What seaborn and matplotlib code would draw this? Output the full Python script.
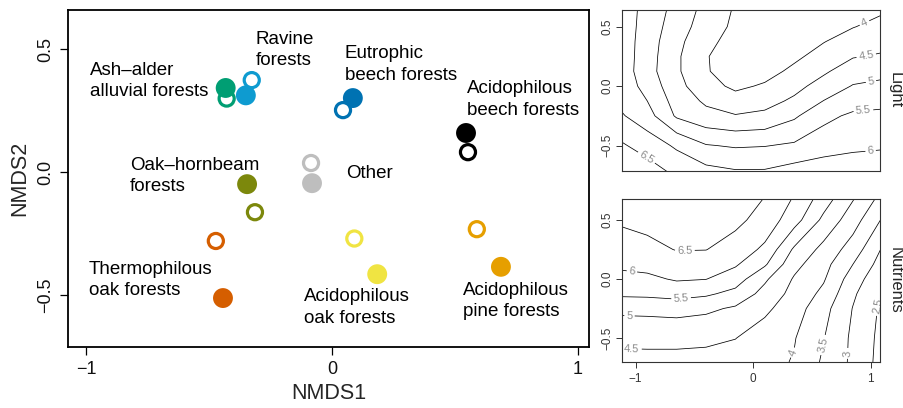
import numpy as np
import pandas as pd
import matplotlib
matplotlib.use("Agg")
import matplotlib.pyplot as plt
import seaborn as sns

# ---------------- data ----------------
groups = ["Ash–alder alluvial forests", "Ravine forests", "Eutrophic beech forests",
          "Acidophilous beech forests", "Oak–hornbeam forests", "Other",
          "Thermophilous oak forests", "Acidophilous oak forests", "Acidophilous pine forests"]
label_text = ["Ash–alder\nalluvial forests", "Ravine\nforests", "Eutrophic\nbeech forests",
              "Acidophilous\nbeech forests", "Oak–hornbeam\nforests", "Other",
              "Thermophilous\noak forests", "Acidophilous\noak forests", "Acidophilous\npine forests"]
filled_x = [-0.432, -0.350, 0.085, 0.545, -0.345, -0.081, -0.443, 0.184, 0.687]
filled_y = [0.342, 0.312, 0.301, 0.159, -0.049, -0.045, -0.512, -0.415, -0.385]
open_x = [-0.428, -0.326, 0.045, 0.553, -0.313, -0.085, -0.472, 0.091, 0.589]
open_y = [0.299, 0.374, 0.252, 0.081, -0.163, 0.037, -0.280, -0.270, -0.232]
colors = ["#009E73", "#0E9BD0", "#0072B2", "#000000", "#7C880C", "#BEBEBE",
          "#D55E00", "#F0E442", "#E69F00"]
ring_on_top = [False, True, True, False, False, True, False, False, False]

# label anchors (left edge, vertical centre of text block)
label_x = [-0.984, -0.309, 0.053, 0.549, -0.821, 0.057, -0.988, -0.114, 0.533]
label_y = [0.370, 0.496, 0.437, 0.295, -0.016, -0.004, -0.439, -0.551, -0.524]

# surface grids
grid_x = [-1.15, -0.9, -0.65, -0.4, -0.15, 0.1, 0.35, 0.6, 0.85, 1.1]
light_y = [-0.75, -0.5, -0.25, -0.125, 0.0, 0.125, 0.25, 0.375, 0.5, 0.7]
light_z = [
    [7.1, 6.8, 6.45, 6.25, 6.13, 6.13, 6.3, 6.4, 6.4, 6.3],
    [6.6, 6.29, 5.92, 5.53, 5.45, 5.48, 5.57, 5.75, 5.88, 5.95],
    [6.1, 5.7, 4.93, 4.65, 4.53, 4.6, 4.92, 5.38, 5.58, 5.6],
    [5.92, 5.5, 4.79, 4.42, 4.2, 4.34, 4.58, 5.01, 5.3, 5.38],
    [5.85, 5.33, 4.66, 4.18, 3.9, 4.06, 4.36, 4.68, 5.03, 5.12],
    [5.85, 5.2, 4.58, 4.03, 3.82, 3.82, 4.11, 4.43, 4.74, 4.85],
    [5.85, 5.23, 4.58, 4.03, 3.75, 3.7, 3.9, 4.19, 4.47, 4.55],
    [5.85, 5.25, 4.64, 4.13, 3.82, 3.7, 3.75, 3.98, 4.22, 4.35],
    [5.85, 5.29, 4.74, 4.26, 3.9, 3.75, 3.72, 3.8, 3.98, 4.15],
    [5.82, 5.35, 4.86, 4.38, 3.97, 3.8, 3.7, 3.7, 3.75, 3.85],
]
light_levels = [4, 4.5, 5, 5.5, 6, 6.5]
nutr_y = [-0.75, -0.5, -0.25, -0.125, 0.0, 0.125, 0.25, 0.5, 0.72]
nutr_z = [
    [4.3, 4.32, 4.32, 4.3, 4.25, 4.15, 3.95, 3.4, 2.9, 2.3],
    [4.61, 4.61, 4.61, 4.59, 4.51, 4.27, 4.03, 3.52, 2.9, 2.35],
    [5.12, 5.14, 5.18, 5.1, 4.93, 4.6, 4.23, 3.67, 2.98, 2.4],
    [5.59, 5.61, 5.68, 5.58, 5.35, 4.83, 4.34, 3.88, 3.08, 2.47],
    [5.85, 5.9, 6.05, 6.01, 5.74, 5.08, 4.45, 4.05, 3.25, 2.6],
    [6.09, 6.15, 6.28, 6.25, 6.06, 5.57, 4.65, 4.17, 3.5, 2.78],
    [6.28, 6.36, 6.52, 6.51, 6.29, 5.9, 4.92, 4.35, 3.77, 2.95],
    [6.55, 6.65, 6.75, 6.75, 6.62, 6.31, 5.71, 4.88, 4.22, 3.45],
    [6.7, 6.8, 6.85, 6.8, 6.75, 6.52, 6.0, 5.33, 4.6, 3.9],
]
nutr_levels = [2.5, 3, 3.5, 4, 4.5, 5, 5.5, 6, 6.5]

light_label_pos = [(0.94, 0.55), (0.96, 0.27), (1.0, 0.06), (0.94, -0.22), (1.0, -0.54), (-0.9, -0.59)]
nutr_label_pos = [(-0.58, 0.223), (-1.03, 0.07), (-0.61, -0.19), (-1.05, -0.27), (-1.03, -0.56),
                  (0.33, -0.62), (0.60, -0.56), (0.80, -0.63), (1.04, -0.22)]

# ---------------- style ----------------
sns.set_theme(style="white")
plt.rcParams["font.family"] = ["Liberation Sans", "DejaVu Sans"]
plt.rcParams["axes.unicode_minus"] = True

fig = plt.figure(figsize=(9.04, 4.08), dpi=100)

# ---------------- main NMDS panel ----------------
ax = fig.add_axes([68 / 904, 1 - 347 / 408, (589 - 68) / 904, (347 - 10) / 408])

df = pd.DataFrame({
    "group": groups * 2,
    "x": filled_x + open_x,
    "y": filled_y + open_y,
    "kind": ["filled"] * len(groups) + ["open"] * len(groups),
    "ringtop": ring_on_top * 2,
})
palette = dict(zip(groups, colors))


def draw(sub, kind, z):
    if len(sub) == 0:
        return
    n0 = len(ax.collections)
    if kind == "filled":
        sns.scatterplot(data=sub, x="x", y="y", hue="group", palette=palette, s=205,
                        linewidth=0, legend=False, ax=ax, zorder=z)
    else:
        sns.scatterplot(data=sub, x="x", y="y", hue="group", palette=palette, s=118,
                        linewidth=2.3, legend=False, ax=ax, zorder=z)
        coll = ax.collections[n0]
        fc = coll.get_facecolors()
        coll.set_edgecolors(fc)
        coll.set_facecolors("white")


# bottom layer
draw(df[(df.kind == "open") & (~df.ringtop)], "open", 2)
draw(df[(df.kind == "filled") & (df.ringtop)], "filled", 2)
# top layer
draw(df[(df.kind == "filled") & (~df.ringtop)], "filled", 3)
draw(df[(df.kind == "open") & (df.ringtop)], "open", 3)

for tx, lx, ly in zip(label_text, label_x, label_y):
    ax.text(lx, ly, tx, ha="left", va="center", fontsize=13.5, linespacing=1.36, color="black")

ax.set_xlim(-1.073, 1.045)
ax.set_ylim(-0.711, 0.659)
ax.set_xticks([-1, 0, 1])
ax.set_xticklabels(["−1", "0", "1"])
ax.set_yticks([-0.5, 0, 0.5])
ax.set_yticklabels(["−0.5", "0.0", "0.5"], rotation=90, va="center")
ax.tick_params(axis="both", direction="out", length=6, width=0.9, color="black",
               labelsize=13, bottom=True, left=True, pad=4, labelcolor="#111111")
ax.set_xlabel("NMDS1", fontsize=15.5, labelpad=4)
ax.set_ylabel("NMDS2", fontsize=15.5, labelpad=5)
for sp in ax.spines.values():
    sp.set_linewidth(1.3)
    sp.set_color("black")


def contour_panel(rect, zy, zz, levels, positions, ylim, name, xticks):
    a = fig.add_axes(rect)
    X, Y = np.meshgrid(grid_x, zy)
    cs = a.contour(X, Y, np.array(zz), levels=levels, colors="black", linewidths=0.55)
    a.clabel(cs, manual=positions, inline=True, inline_spacing=2, fontsize=8,
             colors="#8a8a8a", fmt=lambda v: f"{v:g}")
    a.set_xlim(-1.115, 1.08)
    a.set_ylim(*ylim)
    a.set_yticks([-0.5, 0, 0.5])
    a.set_yticklabels(["−0.5", "0.0", "0.5"], rotation=90, va="center")
    if xticks:
        a.set_xticks([-1, 0, 1])
        a.set_xticklabels(["−1", "0", "1"])
        a.tick_params(axis="x", bottom=True, pad=4)
    else:
        a.set_xticks([])
    a.tick_params(axis="both", direction="out", length=4, width=0.7, color="#333333",
                  labelsize=8.5, left=True, labelcolor="#333333")
    a.tick_params(axis="y", pad=2)
    for sp in a.spines.values():
        sp.set_linewidth(0.8)
        sp.set_color("#333333")
    a.text(1.058, 0.5, name, rotation=-90, transform=a.transAxes, ha="center",
           va="center", fontsize=12)
    return a


contour_panel([622 / 904, 1 - 171 / 408, (880 - 622) / 904, (171 - 10) / 408],
              light_y, light_z, light_levels, light_label_pos, (-0.714, 0.64), "Light", False)
contour_panel([622 / 904, 1 - 362 / 408, (880 - 622) / 904, (362 - 199) / 408],
              nutr_y, nutr_z, nutr_levels, nutr_label_pos, (-0.703, 0.678), "Nutrients", True)

fig.savefig("out.png", dpi=100)
